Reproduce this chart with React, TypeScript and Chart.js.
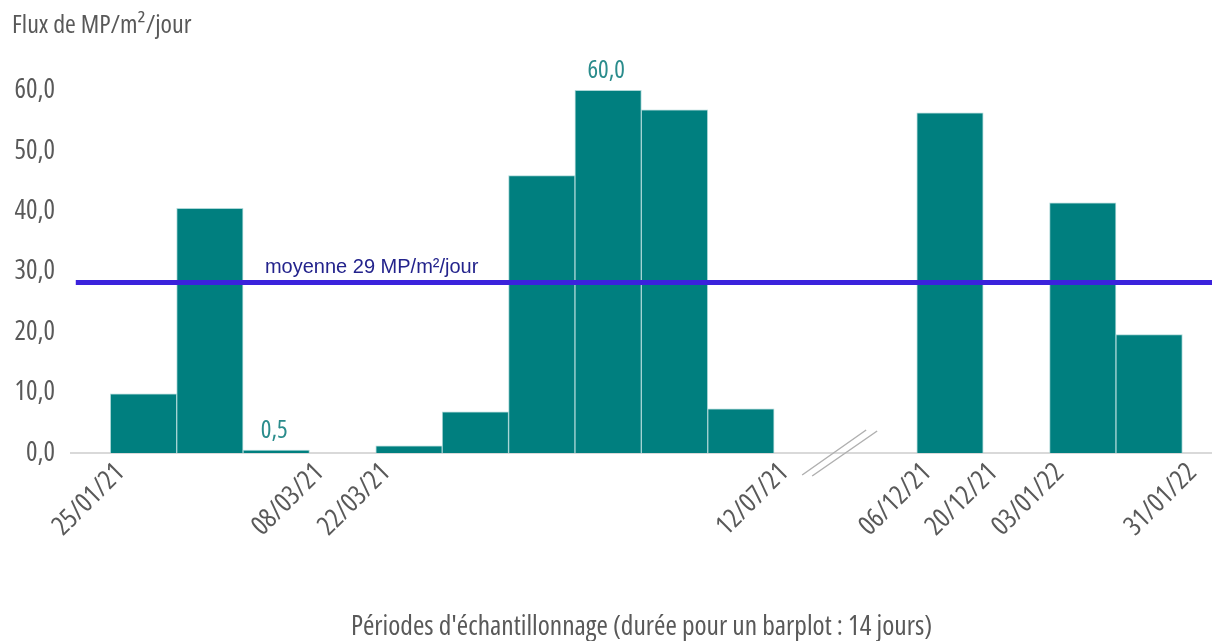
import React, { useEffect, useRef } from 'react';
import { Chart, registerables } from 'chart.js';

Chart.register(...registerables);

// ---- Data ----
// Sampling periods, first campaign: 25/01/21 -> 12/07/21 (null = no sample)
const fluxPart1: (number | null)[] = [9.8, 40.5, 0.5, null, 1.2, 6.8, 45.9, 60.0, 56.8, 7.3];
// Second campaign: 06/12/21 -> 31/01/22
const fluxPart2: (number | null)[] = [56.3, null, 41.4, 19.6];
// Tick labels at the period boundaries ('' = no label)
const tickLabelsPart1 = ['25/01/21', '', '', '08/03/21', '22/03/21', '', '', '', '', '', '12/07/21'];
const tickLabelsPart2 = ['06/12/21', '20/12/21', '03/01/22', '', '31/01/22'];
// Bars of part 1 that carry a value label
const labelledBars = [2, 7];
const moyenne = 28.2;
const moyenneLabel = 'moyenne 29 MP/m²/jour';
const yTitle = 'Flux de MP/m²/jour';
const xTitle = "Périodes d'échantillonnage (durée pour un barplot : 14 jours)";

// ---- Layout constants ----
const BREAK = 2.15; // width of the axis break, in period units
const P2 = fluxPart1.length + BREAK;
const FAMILY = "'Open Sans', sans-serif";
const GREY = '#595959';
const TEAL = '#007f7f';

const barPoints = [
  ...fluxPart1.map((y, i) => ({ x: i + 0.5, y })),
  ...fluxPart2.map((y, j) => ({ x: P2 + j + 0.5, y })),
].filter((p) => p.y !== null) as { x: number; y: number }[];

const tickDefs = [
  ...tickLabelsPart1.map((label, k) => ({ value: k, label })),
  ...tickLabelsPart2.map((label, k) => ({ value: P2 + k, label })),
].filter((t) => t.label !== '');

const fmt = (v: number) => v.toFixed(1).replace('.', ',');

const annotations = {
  id: 'annotations',
  afterDatasetsDraw(chart: any) {
    const { ctx } = chart;
    const x = chart.scales.x;
    const y = chart.scales.y;
    ctx.save();
    // value labels
    ctx.font = `condensed 25px ${FAMILY}`;
    ctx.fillStyle = '#2a8c8c';
    ctx.textAlign = 'center';
    ctx.textBaseline = 'alphabetic';
    for (const i of labelledBars) {
      const v = fluxPart1[i] as number;
      ctx.fillText(fmt(v), x.getPixelForValue(i + 0.5) - 2, y.getPixelForValue(v) - 12);
    }
    // average label
    ctx.font = "20px 'Liberation Sans', Arial, sans-serif";
    ctx.fillStyle = '#23238c';
    ctx.textAlign = 'left';
    ctx.fillText(moyenneLabel, x.getPixelForValue(2.33), y.getPixelForValue(moyenne) - 10);
    // axis break marks
    const cx = x.getPixelForValue(fluxPart1.length + 0.98);
    const cy = y.getPixelForValue(0);
    ctx.strokeStyle = '#b0b0b0';
    ctx.lineWidth = 1.5;
    ctx.beginPath();
    ctx.moveTo(cx - 37, cy + 22);
    ctx.lineTo(cx + 27, cy - 23);
    ctx.moveTo(cx - 27, cy + 23);
    ctx.lineTo(cx + 38, cy - 22);
    ctx.stroke();
    ctx.restore();
  },
};

export default function App() {
  const ref = useRef<HTMLCanvasElement>(null);
  useEffect(() => {
    document.body.style.margin = '0';
    const canvas = ref.current!;
    const xMin = -0.592;
    const xMax = P2 + fluxPart2.length + 0.447;
    const chart = new Chart(canvas, {
      data: {
        datasets: [
          {
            type: 'line',
            data: [
              { x: -0.52, y: moyenne },
              { x: xMax, y: moyenne },
            ],
            borderColor: '#3b22dc',
            borderWidth: 5,
            pointRadius: 0,
            order: 0,
          } as any,
          {
            type: 'bar',
            data: barPoints as any,
            backgroundColor: TEAL,
            borderColor: 'rgba(150,205,205,0.8)',
            borderWidth: 1,
            borderSkipped: 'bottom',
            categoryPercentage: 1,
            barPercentage: 1,
            order: 1,
          } as any,
        ],
      },
      options: {
        responsive: false,
        animation: false,
        layout: { padding: { left: 12, right: 0, top: 0, bottom: 0 } },
        plugins: {
          legend: { display: false },
          tooltip: { enabled: false },
          title: {
            display: true,
            text: yTitle,
            align: 'start',
            color: GREY,
            font: { family: FAMILY, size: 26, weight: 'condensed', lineHeight: 1.2 },
            padding: { top: 10, bottom: 19 },
          },
        },
        scales: {
          x: {
            type: 'linear',
            offset: false,
            min: xMin,
            max: xMax,
            grid: { display: false, drawTicks: false, offset: false },
            border: { display: true, color: '#d9d9d9', width: 2 },
            afterBuildTicks: (scale: any) => {
              scale.ticks = tickDefs.map((t) => ({ value: t.value }));
            },
            afterFit: (scale: any) => {
              scale.height = 188;
            },
            ticks: {
              autoSkip: false,
              minRotation: 45,
              maxRotation: 45,
              padding: 4,
              labelOffset: 10,
              color: GREY,
              font: { family: FAMILY, size: 27, weight: 'semi-condensed' },
              callback: (_v: any, i: number) => tickDefs[i]?.label ?? '',
            },
            title: {
              display: true,
              text: xTitle,
              color: GREY,
              font: { family: FAMILY, size: 27.5, weight: 'condensed', lineHeight: 1 },
              padding: { top: 0, bottom: 0 },
            },
          },
          y: {
            type: 'linear',
            min: 0,
            max: 65,
            grid: { display: false, drawTicks: false },
            border: { display: false },
            afterBuildTicks: (scale: any) => {
              scale.ticks = scale.ticks.filter((t: any) => t.value <= 60);
            },
            afterFit: (scale: any) => {
              scale.width = 59;
            },
            ticks: {
              stepSize: 10,
              padding: 16,
              color: GREY,
              font: { family: FAMILY, size: 27, weight: 'condensed' },
              callback: (v: any) => fmt(Number(v)),
            },
          },
        },
      } as any,
      plugins: [annotations],
    });
    return () => chart.destroy();
  }, []);
  return (
    <div style={{ width: 1212, height: 641 }}>
      <canvas ref={ref} width={1212} height={641} />
    </div>
  );
}
